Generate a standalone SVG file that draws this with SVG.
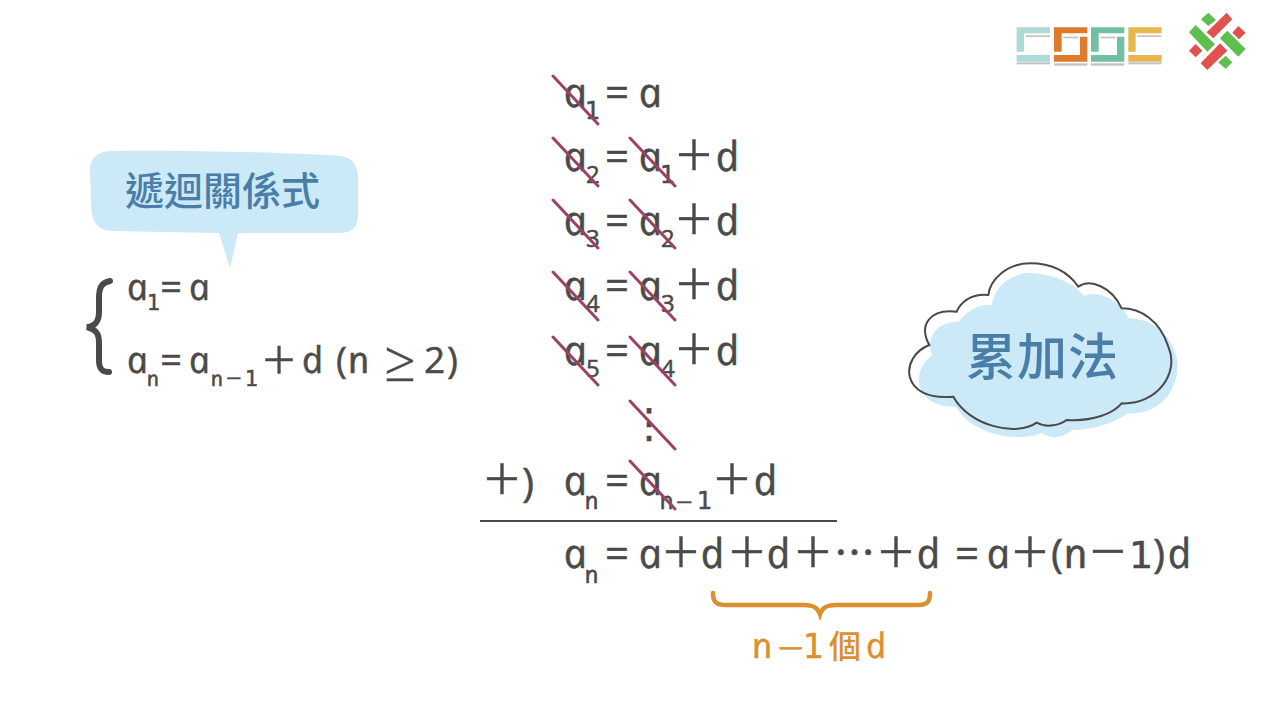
<svg xmlns="http://www.w3.org/2000/svg" width="1280" height="720" viewBox="0 0 1280 720">
<style>
text{font-family:"Open Sans","Noto Sans","Noto Sans CJK TC",sans-serif;fill:#4a4a4a;stroke:#4a4a4a;stroke-width:.5}
.i{font-style:italic}
.b{font-size:41px}.s{font-size:24px}
.lb{font-size:37px}.ls{font-size:21px}
.p{font-size:64px;font-weight:300;text-anchor:middle}
.q{font-size:30px;font-weight:300;text-anchor:middle}
.e{font-size:42px;text-anchor:middle}
.u{font-family:"DejaVu Sans",sans-serif}
text.o{fill:#dc8f2c;stroke:#dc8f2c}
text.c{font-family:"Noto Sans CJK TC","Noto Sans",sans-serif;fill:#4a7ea8;stroke:none;font-weight:500}
.k{stroke:#9c4266;stroke-width:3;stroke-linecap:round;fill:none}
</style>
<rect width="1280" height="720" fill="#fff"/>
<g id="logo">
<g transform="translate(1000,0) scale(.3333)">
<g fill="#a9a9a9" opacity=".7"><rect x="50" y="187" width="100" height="6"/><rect x="162" y="190" width="100" height="7"/><rect x="273" y="190" width="100" height="7"/><rect x="385" y="187" width="100" height="6"/>
<rect x="78" y="106" width="72" height="5"/><rect x="190" y="110" width="45" height="5"/><rect x="302" y="110" width="45" height="5"/><rect x="412" y="106" width="72" height="5"/></g>
<path fill="#add9d6" d="M50 82H150V100H72V155H50ZM50 165H150V185H50Z"/>
<path fill="#dd7a2c" d="M162 82H262V100H185V155H162ZM162 165V185H262V110H240V165Z"/>
<path fill="#72bfa4" d="M273 82H373V100H296V155H273ZM273 165V185H373V110H351V165Z"/>
<path fill="#e6b64f" d="M385 82H485V100H407V155H385ZM385 165H485V185H385Z"/>
<g fill="#5cbf4e"><path d="M625 38 648 60 625 78 603 58Z"/><path d="M682 92 737 147 715 170 660 115Z"/><path d="M587 75 645 133 622 155 567 97Z"/><path d="M677 167 697 187 677 207 655 187Z"/></g>
<g fill="#e2504f"><path d="M680 38 697 58 640 115 620 97Z"/><path d="M715 78 737 98 717 118 697 98Z"/><path d="M587 132 607 152 587 172 567 152Z"/><path d="M660 130 682 152 622 210 602 190Z"/></g>
</g></g>
<g id="bubble">
<path fill="#cbe9f6" d="M112 151C170 150 280 152 340 156C352 157 358 165 358 178L358 214C358 228 352 233 338 233L238 233L230 268L219 233L112 231C97 230 92 222 91 205L90 170C90 158 98 151 112 151Z"/>
<text class="c" x="125" y="205" font-size="39">遞迴關係式</text>
</g>
<g id="system">
<path d="M110 281C101 283 99 288 99 298L99 312C99 322 95 326 87 327C95 329 99 333 99 342L99 360C99 369 102 372 109 372" fill="none" stroke="#4a4a4a" stroke-width="6" stroke-linecap="round"/>
<text class="lb i" transform="translate(129 300) skewX(12)">a</text>
<text class="ls u" x="147" y="310">1</text>
<text class="e" x="171" y="300" style="font-size:38px">=</text>
<text class="lb i" transform="translate(191 300) skewX(12)">a</text>
<text class="lb i" transform="translate(129 373) skewX(12)">a</text>
<text class="ls i" transform="translate(148 386) skewX(12)">n</text>
<text class="e" x="171" y="373" style="font-size:38px">=</text>
<text class="lb i" transform="translate(191 373) skewX(12)">a</text>
<text class="ls i" transform="translate(212 386) skewX(12)">n</text>
<text class="q" x="234" y="388" style="font-size:28px">−</text>
<text class="ls u" x="245" y="386">1</text>
<text class="p" x="279" y="381" style="font-size:58px">+</text>
<text class="lb i" transform="translate(304 373) skewX(12)">d</text>
<text class="lb" x="336" y="373">(</text>
<text class="lb i" transform="translate(350 373) skewX(12)">n</text>
<text class="p" x="400" y="381" style="font-size:56px">≥</text>
<text class="lb" x="424" y="373">2</text>
<text class="lb" x="447" y="373">)</text>
</g>
<g id="derivation">
<text class="b i" transform="translate(566 107) skewX(12)">a</text><text class="s u" x="585" y="119">1</text><text class="e" x="617" y="107">=</text><text class="b i" transform="translate(641 107) skewX(12)">a</text>
<text class="b i" transform="translate(566 171) skewX(12)">a</text><text class="s" x="586" y="183">2</text><text class="e" x="617" y="171">=</text><text class="b i" transform="translate(641 171) skewX(12)">a</text><text class="s u" x="660" y="183">1</text><text class="p" x="694" y="177">+</text><text class="b i" transform="translate(718 171) skewX(12)">d</text>
<text class="b i" transform="translate(566 235) skewX(12)">a</text><text class="s" x="586" y="247">3</text><text class="e" x="617" y="235">=</text><text class="b i" transform="translate(641 235) skewX(12)">a</text><text class="s" x="661" y="247">2</text><text class="p" x="694" y="241">+</text><text class="b i" transform="translate(718 235) skewX(12)">d</text>
<text class="b i" transform="translate(566 300) skewX(12)">a</text><text class="s" x="586" y="312">4</text><text class="e" x="617" y="300">=</text><text class="b i" transform="translate(641 300) skewX(12)">a</text><text class="s" x="661" y="312">3</text><text class="p" x="694" y="306">+</text><text class="b i" transform="translate(718 300) skewX(12)">d</text>
<text class="b i" transform="translate(566 365) skewX(12)">a</text><text class="s" x="586" y="377">5</text><text class="e" x="617" y="365">=</text><text class="b i" transform="translate(641 365) skewX(12)">a</text><text class="s" x="661" y="377">4</text><text class="p" x="694" y="371">+</text><text class="b i" transform="translate(718 365) skewX(12)">d</text>
<text class="u" x="649" y="437" text-anchor="middle" style="font-size:40px">⋮</text>
<text class="p" x="502" y="501">+</text><text class="b" x="522" y="497">)</text>
<text class="b i" transform="translate(566 495) skewX(12)">a</text><text class="s i" transform="translate(586 509) skewX(12)">n</text><text class="e" x="617" y="495">=</text><text class="b i" transform="translate(641 495) skewX(12)">a</text><text class="s i" transform="translate(661 509) skewX(12)">n</text><text class="q" x="684" y="513">−</text><text class="s u" x="697" y="509">1</text><text class="p" x="732" y="501">+</text><text class="b i" transform="translate(756 495) skewX(12)">d</text>
<rect x="480" y="520" width="357" height="2" fill="#4a4a4a"/>
<text class="b i" transform="translate(566 568) skewX(12)">a</text><text class="s i" transform="translate(586 583) skewX(12)">n</text><text class="e" x="617" y="568">=</text><text class="b i" transform="translate(641 568) skewX(12)">a</text><text class="p" x="681" y="574">+</text><text class="b i" transform="translate(703 568) skewX(12)">d</text><text class="p" x="747" y="574">+</text><text class="b i" transform="translate(769 568) skewX(12)">d</text><text class="p" x="813" y="574">+</text><text class="b" x="834" y="568">⋯</text><text class="p" x="896" y="574">+</text><text class="b i" transform="translate(919 568) skewX(12)">d</text><text class="e" x="967" y="568">=</text><text class="b i" transform="translate(989 568) skewX(12)">a</text><text class="p" x="1030" y="574">+</text><text class="b" x="1051" y="568">(</text><text class="b i" transform="translate(1066 568) skewX(12)">n</text><text class="p" x="1108" y="574">−</text><text class="b u" x="1129" y="568" style="font-size:38px">1</text><text class="b" x="1153" y="568">)</text><text class="b i" transform="translate(1170 568) skewX(12)">d</text>
</g>
<g id="strikes">
<path class="k" d="M553 76 598 124M553 138 598 186M630 138 675 186M553 200 598 248M630 200 675 248M553 272 598 320M630 272 675 320M553 337 598 385M630 337 675 385M630 401 675 449M630 461 675 509"/>
</g>
<g id="cloud">
<path fill="#cbe9f6" transform="translate(891,259.6) scale(.342,.3347)" d="M120 285C60 330 60 440 190 440C240 530 380 545 440 518C480 540 500 530 530 510C640 505 690 460 690 460C800 465 850 370 835 290C810 200 740 175 695 175C665 110 590 90 565 110C530 60 450 40 400 40C340 45 300 90 295 135C240 130 200 180 200 185C130 185 100 240 120 285Z"/>
<path fill="none" stroke="#4a4a4a" stroke-width="6" transform="translate(890,250) scale(.3333)" d="M118 285C28 320 28 455 190 440C240 530 380 560 440 518C470 535 510 525 530 510C610 515 670 490 695 460C800 465 870 370 835 290C810 210 750 175 695 175C665 110 600 85 565 110C530 60 480 40 420 40C350 40 300 90 295 135C240 130 210 160 200 185C120 175 85 225 118 285Z"/>
<text class="c" x="966" y="375" font-size="50" style="letter-spacing:1px">累加法</text>
</g>
<g id="brace-note">
<path d="M713 593C713 602 716 605 726 605L804 605C814 605 818 608 820 614C822 608 826 605 836 605L918 605C927 605 930 602 930 593" fill="none" stroke="#dc8f2c" stroke-width="4.5" stroke-linecap="round"/>
<text class="b i o" style="font-size:35px" transform="translate(754 658) skewX(12)">n</text><text class="q o" x="791" y="665" style="font-size:47px">−</text><text class="o u" x="803" y="658" style="font-size:33px">1</text><text class="c" x="829" y="658" font-size="32" style="fill:#dc8f2c">個</text><text class="b i o" style="font-size:35px" transform="translate(868 658) skewX(12)">d</text>
</g>
</svg>
